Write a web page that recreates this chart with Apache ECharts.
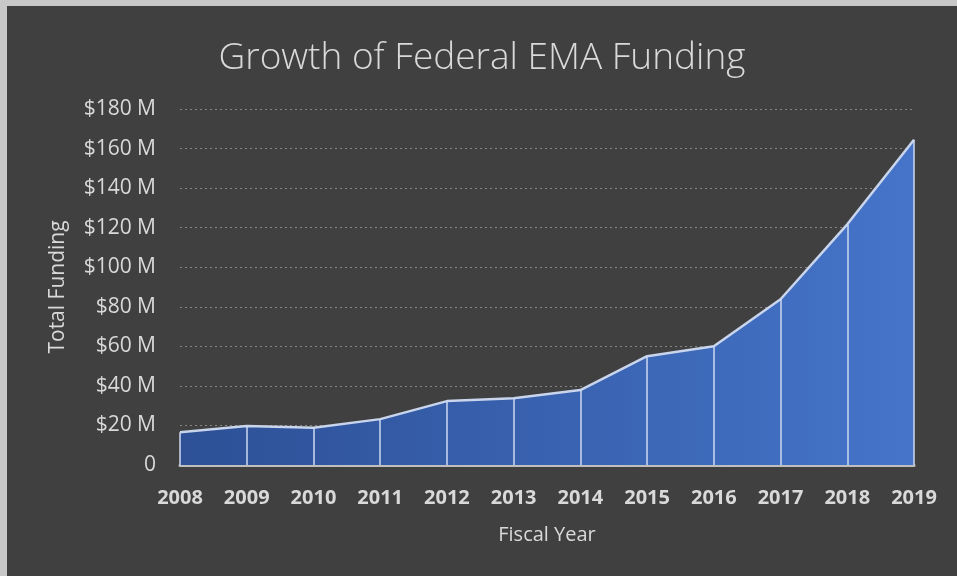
<!DOCTYPE html>
<html>
<head>
<meta charset="utf-8">
<script src="https://cdn.jsdelivr.net/npm/echarts@6/dist/echarts.min.js"></script>
<style>
  html, body { margin: 0; padding: 0; width: 957px; height: 576px; background: #c8c8c8; overflow: hidden; }
  #chart { position: absolute; left: 7px; top: 6px; width: 950px; height: 570px; background: #404040; }
</style>
</head>
<body>
<div id="chart"></div>
<script>
const years = ['2008','2009','2010','2011','2012','2013','2014','2015','2016','2017','2018','2019'];
const funding = [16.5, 19.7, 18.8, 23.2, 32.3, 33.7, 37.9, 55, 60, 83.8, 121.7, 164.5];
const yTicks = [0, 20, 40, 60, 80, 100, 120, 140, 160, 180];

const chart = echarts.init(document.getElementById('chart'));
const txt = '#d9d9d9';
chart.setOption({
  backgroundColor: '#404040',
  animation: false,
  title: {
    text: 'Growth of Federal EMA Funding',
    left: 'center',
    top: 29,
    textStyle: { color: txt, fontFamily: 'Open Sans', fontWeight: 300, fontSize: 37 }
  },
  grid: { left: 173, right: 43, top: 103, bottom: 111 },
  xAxis: {
    type: 'category',
    data: years,
    boundaryGap: false,
    axisLine: { show: true, lineStyle: { color: '#bfbfbf', width: 3 } },
    axisTick: { show: false },
    axisLabel: { color: txt, fontFamily: 'Open Sans', fontWeight: 'bold', fontSize: 20, margin: 23 },
    name: 'Fiscal Year',
    nameLocation: 'middle',
    nameGap: 60,
    nameTextStyle: { color: txt, fontFamily: 'Open Sans', fontSize: 20 }
  },
  yAxis: {
    type: 'value',
    min: yTicks[0],
    max: yTicks[yTicks.length - 1],
    interval: 20,
    axisLine: { show: false },
    axisTick: { show: false },
    axisLabel: {
      color: txt, fontFamily: 'Open Sans', fontSize: 21, margin: 24,
      formatter: v => v === 0 ? '0' : '$' + v + ' M'
    },
    splitLine: { show: true, lineStyle: { color: '#858585', type: [2, 3], width: 1.2 } },
    name: 'Total Funding',
    nameLocation: 'middle',
    nameGap: 111,
    nameTextStyle: { color: txt, fontFamily: 'Open Sans', fontSize: 21 }
  },
  series: [{
    type: 'line',
    data: funding,
    symbol: 'none',
    lineStyle: { color: '#c9d5ec', width: 2.5 },
    areaStyle: {
      opacity: 1,
      color: new echarts.graphic.LinearGradient(0, 0, 1, 0, [
        { offset: 0, color: '#2d5096' },
        { offset: 1, color: '#4574c9' }
      ])
    },
    markLine: {
      silent: true,
      symbol: 'none',
      label: { show: false },
      lineStyle: { color: 'rgba(205,218,240,0.75)', width: 2, type: 'solid' },
      data: years.map((y, i) => [{ coord: [y, 0] }, { coord: [y, funding[i]] }])
    },
    z: 3
  }]
});
</script>
</body>
</html>
